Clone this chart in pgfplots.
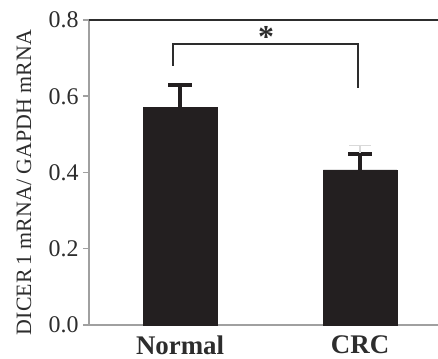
\documentclass[border=0pt]{standalone}
\usepackage{fontspec}
\setmainfont{Liberation Serif}
\usepackage{pgfplots}
\pgfplotsset{compat=1.18}
\definecolor{barblack}{RGB}{35,31,32}
\definecolor{axgray}{RGB}{160,160,160}
\definecolor{txtgray}{RGB}{45,45,45}
\begin{document}
\begin{tikzpicture}
\begin{axis}[
  scale only axis,
  width=349bp, height=305bp,
  xmin=-0.506, xmax=1.433,
  ymin=0, ymax=0.8,
  axis x line*=bottom,
  axis y line*=left,
  axis line style={axgray, line width=2bp},
  xtick={0,1},
  xticklabels={Normal,CRC},
  extra x ticks={0.5},
  extra x tick labels={},
  extra x tick style={major tick length=6bp, tick style={axgray, line width=1.5bp}},
  major x tick style={draw=none},
  xticklabel style={font=\fontsize{27}{30}\selectfont\bfseries, text=txtgray, yshift=-1bp},
  ytick={0,0.2,0.4,0.6,0.8},
  yticklabel style={font=\fontsize{24}{26}\selectfont, text=txtgray, xshift=-1bp},
  yticklabel={\pgfmathprintnumber[fixed,fixed zerofill,precision=1]{\tick}},
  /pgf/number format/assume math mode=true,
  ytick style={axgray, line width=1.5bp},
  tick align=outside,
  major tick length=6bp,
  ylabel={DICER\,1 mRNA/ GAPDH mRNA},
  ylabel style={font=\fontsize{22}{24}\selectfont, text=txtgray, at={(axis description cs:-0.186,0.467)}, anchor=center},
  clip=false,
]
\addplot[ybar, bar width=0.408, fill=barblack, draw=barblack,
  error bars/.cd, y dir=plus, y explicit,
  error bar style={line width=4.5bp, barblack},
  error mark options={rotate=90, mark size=12bp, line width=4bp, barblack}]
  coordinates {(0,0.570) +- (0,0.060) (1,0.407) +- (0,0.042)};
% top border line
\draw[txtgray, line width=1.3bp] (axis cs:-0.506,0.8) -- (axis cs:1.433,0.8);
% faint cap above CRC
\draw[black!15, line width=1.2bp] (axis cs:0.94,0.470) -- (axis cs:1.06,0.470);
\draw[black!15, line width=1.2bp] (axis cs:1,0.452) -- (axis cs:1,0.470);
% significance bracket
\draw[txtgray, line width=1.3bp] (axis cs:-0.039,0.680) -- (axis cs:-0.039,0.737) -- (axis cs:0.989,0.737) -- (axis cs:0.989,0.622);
\node[font=\fontsize{32}{34}\selectfont\bfseries, text=txtgray] at (axis cs:0.478,0.756) {*};
\end{axis}
\pgfresetboundingbox
\path ([shift={(-89bp,-34bp)}]current axis.south west) rectangle ([shift={(0bp,20bp)}]current axis.north east);
\end{tikzpicture}
\end{document}
